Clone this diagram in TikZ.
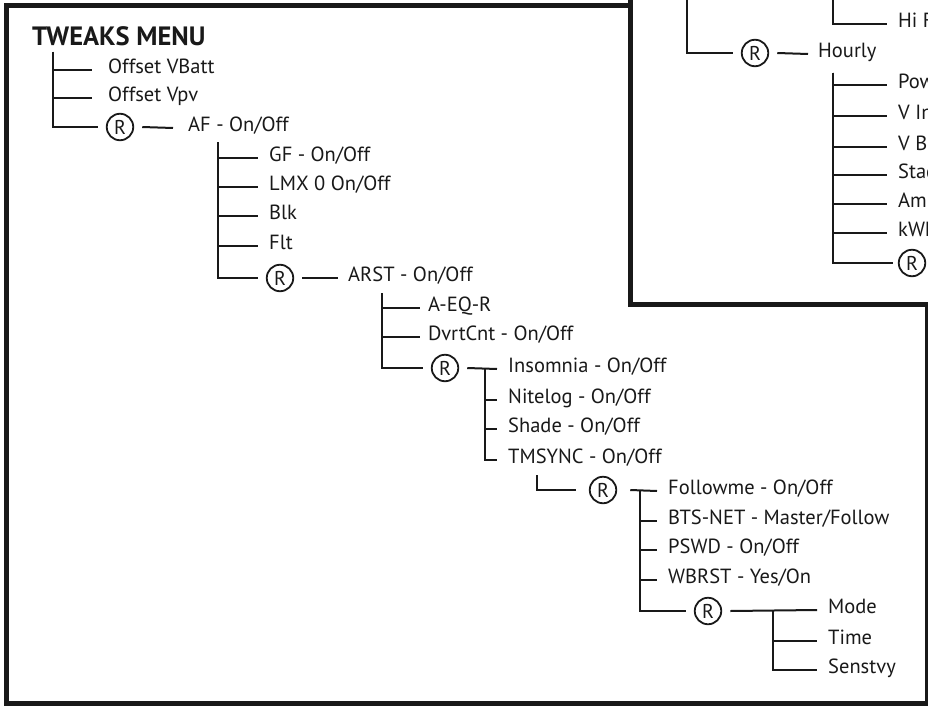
\documentclass[tikz,border=0pt]{standalone}
\usepackage{fontspec}
\setmainfont{PT Sans}
\usepackage{xcolor}
\definecolor{ink}{RGB}{25,25,25}

\begin{document}
\begin{tikzpicture}[x=1pt, y=-1pt, ink,
  wire/.style={line width=2pt},
  frame/.style={line width=5pt},
  item/.style={anchor=west, inner xsep=11pt, inner ysep=0pt, text height=0.7em, text depth=0pt, font=\fontsize{20.5}{24}\selectfont},
  regbox/.style={circle, draw, line width=1.8pt, minimum size=26.5pt, inner sep=0pt, outer sep=9pt, font=\fontsize{20}{22}\selectfont}]
  \useasboundingbox (0,0) rectangle (928,706);
  \clip (0,0) rectangle (928,706);

  % Outer frame
  \draw[frame] (6.5,5.5) rectangle (927.5,703.5);

  % Title
  \node[anchor=base west, inner sep=0pt, font=\bfseries\fontsize{26.5}{30}\selectfont] (title) at (32,46) {TWEAKS MENU};

  % Level 1
  \coordinate (c0) at (53,52);
  \node[item, inner xsep=16pt] (vbatt) at (92,70) {Offset VBatt};
  \node[item, inner xsep=16pt] (vpv) at (92,98) {Offset Vpv};
  \node[regbox] (r1) at (120,127) {R};
  \node[item, inner xsep=15pt] (af) at (173,128) {AF - On/Off};
  \draw[wire] (c0) |- (vbatt.west);
  \draw[wire] (c0) |- (vpv.west);
  \draw[wire] (c0) |- (r1.west);
  \draw[wire] (r1.east) -- (af.west);

  % Level 2
  \coordinate (c1) at (218,142);
  \node[item] (gf) at (258,158) {GF - On/Off};
  \node[item] (lmx) at (258,187) {LMX 0 On/Off};
  \node[item] (blk) at (258,216) {Blk};
  \node[item] (flt) at (258,246) {Flt};
  \node[regbox] (r2) at (280,278) {R};
  \node[item, inner xsep=10pt] (arst) at (338,278) {ARST - On/Off};
  \foreach \n in {gf, lmx, blk, flt, r2}
    \draw[wire] (c1) |- (\n.west);
  \draw[wire] (r2.east) -- (arst.west);

  % Level 3
  \coordinate (c2) at (382,293);
  \node[item, inner xsep=8pt] (aeqr) at (420,308) {A-EQ-R};
  \node[item, inner xsep=8pt] (dvrt) at (420,337) {DvrtCnt - On/Off};
  \node[regbox] (r3) at (445,368) {R};
  \foreach \n in {aeqr, dvrt, r3}
    \draw[wire] (c2) |- (\n.west);

  % Level 4
  \coordinate (c3) at (485,369);
  \node[item] (insom) at (497,369) {Insomnia - On/Off};
  \node[item] (nitelog) at (497,400) {Nitelog - On/Off};
  \node[item] (shade) at (497,429) {Shade - On/Off};
  \node[item] (tmsync) at (497,460) {TMSYNC - On/Off};
  \draw[wire] (r3.east) -- (insom.west);
  \foreach \n in {nitelog, shade, tmsync}
    \draw[wire] (c3) |- (\n.west);

  % Level 5
  \coordinate (c4) at (537,475);
  \node[regbox, outer sep=14pt] (r4) at (603,490) {R};
  \draw[wire] (c4) |- (r4.west);
  \coordinate (c5) at (640,491);
  \node[item] (follow) at (657,491) {Followme - On/Off};
  \node[item] (btsnet) at (657,521) {BTS-NET - Master/Follow};
  \node[item] (pswd) at (657,550) {PSWD - On/Off};
  \node[item] (wbrst) at (657,580) {WBRST - Yes/On};
  \node[regbox] (r5) at (708,611) {R};
  \draw[wire] (r4.east) -- (follow.west);
  \foreach \n in {btsnet, pswd, wbrst, r5}
    \draw[wire] (c5) |- (\n.west);

  % Level 6
  \coordinate (c6) at (773,610);
  \node[item] (mode) at (817,610) {Mode};
  \node[item] (time) at (817,641) {Time};
  \node[item] (senst) at (817,670) {Senstvy};
  \draw[wire] (r5.east) -- (mode.west);
  \draw[wire] (c6) |- (time.west);
  \draw[wire] (c6) |- (senst.west);

  % Inset
  \draw[frame, fill=white] (630.5,-20) rectangle (960,304.5);

  \coordinate (c7) at (687,-20);
  \node[regbox] (r6) at (755,53) {R};
  \node[item, inner xsep=10pt] (hourly) at (808,54) {Hourly};
  \draw[wire] (c7) |- (r6.west);
  \draw[wire] (r6.east) -- (hourly.west);

  \coordinate (c8) at (833,-20);
  \node[item] (hours) at (887,-5) {Hours};
  \node[item] (hifreq) at (887,24) {Hi Freq};
  \draw[wire] (c8) |- (hours.west);
  \draw[wire] (c8) |- (hifreq.west);

  \coordinate (c9) at (833,73);
  \node[item] (power) at (887,85) {Power};
  \node[item] (vin) at (887,116) {V In};
  \node[item] (vbat) at (887,147) {V Batt};
  \node[item] (stage) at (887,175) {Stage};
  \node[item] (amps) at (887,204) {Amps};
  \node[item] (kwh) at (887,233) {kWh};
  \node[regbox, outer sep=6pt] (r7) at (912,263) {R};
  \foreach \n in {power, vin, vbat, stage, amps, kwh, r7}
    \draw[wire] (c9) |- (\n.west);

\end{tikzpicture}
\end{document}
